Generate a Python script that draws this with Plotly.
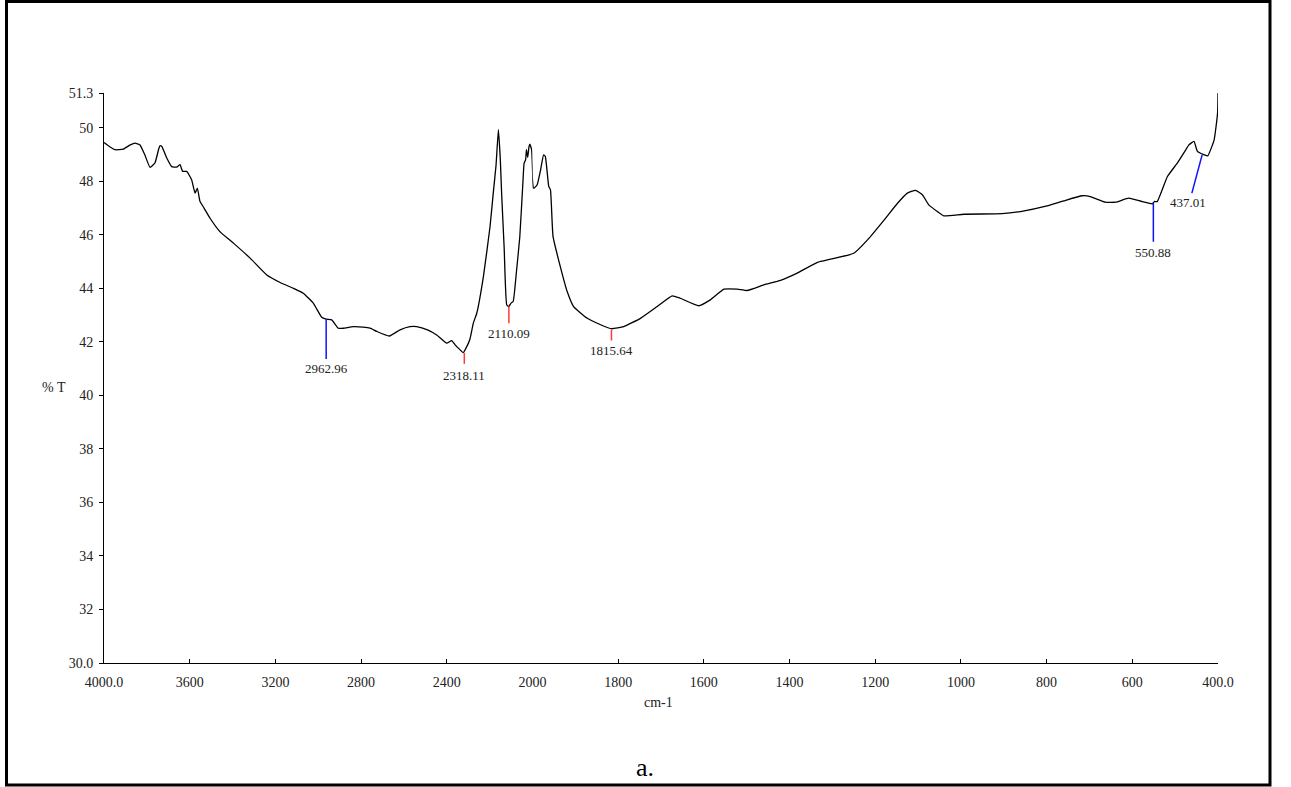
import plotly.graph_objects as go

# ---- data ----
wavenumber = [4000, 3975, 3949, 3910, 3880, 3855, 3832, 3810, 3785, 3762, 3745, 3739, 3730, 3707,
              3684, 3661, 3645, 3633, 3614, 3591, 3575, 3564, 3552, 3533, 3505, 3459, 3396, 3318,
              3240, 3178, 3116, 3070, 3023, 2984, 2963, 2937, 2906, 2883, 2836, 2790, 2758, 2727,
              2668, 2618, 2572, 2540, 2490, 2447, 2400, 2377, 2361, 2340, 2323, 2305, 2292, 2276,
              2260, 2229, 2198, 2183, 2170, 2159, 2150, 2144, 2132, 2120, 2110, 2100, 2090, 2075,
              2059, 2045, 2039, 2032, 2028, 2022, 2016, 2012, 2004, 1997, 1989, 1981, 1974, 1970,
              1962, 1958, 1952, 1935, 1919, 1904, 1872, 1841, 1815, 1787, 1748, 1709, 1674, 1655,
              1612, 1585, 1553, 1522, 1499, 1460, 1421, 1382, 1335, 1304, 1250, 1218, 1179, 1148,
              1125, 1106, 1090, 1075, 1055, 1040, 993, 904, 861, 799, 760, 717, 698, 663, 639, 608,
              577, 553, 548, 542, 518, 495, 475, 468, 456, 448, 432, 424, 409, 401, 400]
transmittance = [49.45, 49.30, 49.18, 49.20, 49.35, 49.43, 49.36, 49.00, 48.52, 48.69, 49.20, 49.33,
                 49.30, 48.87, 48.55, 48.53, 48.62, 48.37, 48.37, 48.06, 47.56, 47.74, 47.25, 47.00,
                 46.62, 46.12, 45.69, 45.13, 44.50, 44.22, 44.00, 43.82, 43.45, 42.92, 42.85, 42.82,
                 42.51, 42.51, 42.57, 42.55, 42.51, 42.39, 42.22, 42.45, 42.57, 42.57, 42.45, 42.26,
                 41.95, 42.05, 41.89, 41.72, 41.60, 41.85, 42.10, 42.70, 43.07, 44.44, 46.31, 47.56,
                 48.60, 49.93, 48.80, 47.56, 45.50, 43.38, 43.32, 43.45, 43.51, 44.60, 45.94, 47.90,
                 48.68, 48.80, 49.18, 48.90, 49.30, 49.39, 49.18, 47.74, 47.87, 48.43, 48.99, 48.93,
                 47.81, 47.68, 45.94, 44.81, 43.88, 43.32, 42.88, 42.64, 42.49, 42.57, 42.88, 43.32,
                 43.72, 43.63, 43.35, 43.57, 43.97, 43.97, 43.92, 44.13, 44.30, 44.57, 44.97, 45.09,
                 45.31, 45.81, 46.56, 47.18, 47.56, 47.66, 47.50, 47.12, 46.87, 46.71, 46.77, 46.79,
                 46.87, 47.08, 47.27, 47.46, 47.43, 47.22, 47.22, 47.37, 47.24, 47.16, 47.25, 47.24,
                 48.18, 48.68, 49.18, 49.36, 49.49, 49.12, 48.99, 48.95, 49.55, 50.55, 51.30]

# peak picks: label, wavenumber, curve value, marker end value, label value, colour name
peak_labels = ["2962.96", "2318.11", "2110.09", "1815.64", "550.88", "437.01"]
peak_wn = [2962.96, 2318.11, 2110.09, 1815.64, 550.88, 437.01]
peak_top = [42.85, 41.59, 43.32, 42.45, 47.20, 48.99]
peak_bottom = [41.36, 41.18, 42.70, 42.05, 45.74, 47.56]
peak_bottom_wn = [2962.96, 2318.11, 2110.09, 1815.64, 550.88, 461]
peak_text_wn = [2962.96, 2318.11, 2110.09, 1815.64, 550.88, 470]
peak_text_y = [40.99, 40.73, 42.30, 41.66, 45.34, 47.20]
peak_kind = ["blue", "red", "red", "red", "blue", "blue"]

x1_ticks = [4000, 3600, 3200, 2800, 2400]
x1_text = ["4000.0", "3600", "3200", "2800", "2400"]
x2_ticks = [2000, 1800, 1600, 1400, 1200, 1000, 800, 600, 400]
x2_text = ["2000", "1800", "1600", "1400", "1200", "1000", "800", "600", "400.0"]
y_ticks = [30, 32, 34, 36, 38, 40, 42, 44, 46, 48, 50, 51.3]
y_text = ["30.0", "32", "34", "36", "38", "40", "42", "44", "46", "48", "50", "51.3"]

# ---- figure ----
FONT = "Liberation Serif"
W, H = 1291, 787
L, R, T, B = 104, 1218, 93, 663
colors = {"blue": "#1010ff", "red": "#ff3a3a"}

fig = go.Figure()
hi = [(w, t) for w, t in zip(wavenumber, transmittance) if w >= 1997]
lo = [(w, t) for w, t in zip(wavenumber, transmittance) if w <= 2004]
fig.add_trace(go.Scatter(x=[p[0] for p in hi], y=[p[1] for p in hi], mode="lines",
                         line=dict(color="black", width=1.3, shape="spline", smoothing=0.4),
                         xaxis="x", yaxis="y", showlegend=False, hoverinfo="skip"))
fig.add_trace(go.Scatter(x=[p[0] for p in lo], y=[p[1] for p in lo], mode="lines",
                         line=dict(color="black", width=1.3, shape="spline", smoothing=0.4),
                         xaxis="x2", yaxis="y", showlegend=False, hoverinfo="skip"))

shapes = []
annotations = []
for lab, w, top, bot, bw, tw, ty, kind in zip(peak_labels, peak_wn, peak_top, peak_bottom,
                                               peak_bottom_wn, peak_text_wn, peak_text_y, peak_kind):
    xr = "x" if w >= 2000 else "x2"
    shapes.append(dict(type="line", xref=xr, yref="y", x0=w, x1=bw, y0=top, y1=bot,
                       line=dict(color=colors[kind], width=1.5)))
    annotations.append(dict(text=lab, xref=xr, yref="y", x=tw, y=ty, showarrow=False,
                            font=dict(family=FONT, size=13, color="#222"),
                            xanchor="center", yanchor="middle"))

pw = R - L
ph = B - T
def px(xp):
    return (xp - L) / pw
def py(yp):
    return (B - yp) / ph

# outer frame
shapes.append(dict(type="rect", xref="paper", yref="paper",
                   x0=px(6.5), x1=px(1270), y0=py(785), y1=py(1.5),
                   line=dict(color="black", width=3), fillcolor="rgba(0,0,0,0)"))

annotations.append(dict(text="% T", xref="paper", yref="paper", x=px(54), y=py(387),
                        showarrow=False, font=dict(family=FONT, size=14, color="#222"),
                        xanchor="center", yanchor="middle"))
annotations.append(dict(text="cm-1", xref="paper", yref="paper", x=px(658), y=py(702),
                        showarrow=False, font=dict(family=FONT, size=14, color="#222"),
                        xanchor="center", yanchor="middle"))
annotations.append(dict(text="a.", xref="paper", yref="paper", x=px(645), y=py(767),
                        showarrow=False, font=dict(family=FONT, size=26, color="black"),
                        xanchor="center", yanchor="middle"))

split = 5 / 13
axis_common = dict(showline=True, linecolor="black", linewidth=1, showgrid=False,
                   zeroline=False, ticks="inside", ticklen=4, tickcolor="black",
                   tickfont=dict(family=FONT, size=14, color="#222"), ticklabelstandoff=6)
fig.update_layout(
    width=W, height=H,
    margin=dict(l=L, r=W - R, t=T, b=H - B),
    paper_bgcolor="white", plot_bgcolor="white",
    xaxis=dict(domain=[0, split], range=[4000, 2000], tickmode="array",
               tickvals=x1_ticks, ticktext=x1_text, anchor="y", **axis_common),
    xaxis2=dict(domain=[split, 1], range=[2000, 400], tickmode="array",
                tickvals=x2_ticks, ticktext=x2_text, anchor="y", **axis_common),
    yaxis=dict(range=[30, 51.3], tickmode="array", tickvals=y_ticks, ticktext=y_text,
               showline=True, linecolor="black", linewidth=1, showgrid=False, zeroline=False,
               ticks="outside", ticklen=4, tickcolor="black", ticklabelstandoff=3,
               tickfont=dict(family=FONT, size=14, color="#222"), anchor="x"),
    shapes=shapes, annotations=annotations,
)

fig.write_html("out.html")
